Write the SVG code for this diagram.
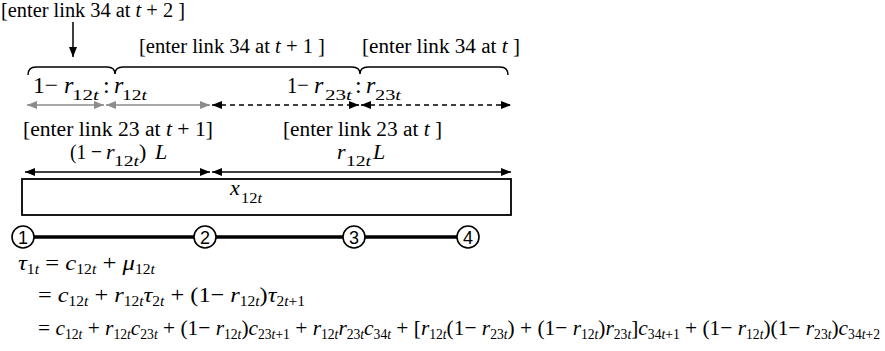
<svg xmlns="http://www.w3.org/2000/svg" width="885" height="351" viewBox="0 0 885 351">
<defs>
<style>
text{font-family:"Liberation Serif","Times New Roman",serif;fill:#000}
.lab{font-size:20px}
.big{font-size:24px}
.mid{font-size:22px}
.eq{font-size:22px}
.i{font-style:italic}
.s{font-size:14px}
.sb{font-size:15px}
.num{font-family:"Liberation Sans",Arial,sans-serif;font-size:18px}
.ln{stroke:#000;stroke-width:1.5;fill:none}
.gr{stroke:#8c8c8c;stroke-width:1.6;fill:none}
.ds{stroke:#000;stroke-width:1.5;fill:none;stroke-dasharray:5 4}
.lk{stroke:#000;stroke-width:3.5}
.nd{fill:#fff;stroke:#000;stroke-width:1.6}
</style>
<marker id="ah" viewBox="0 0 10 8" refX="10" refY="4" markerWidth="10" markerHeight="8" markerUnits="userSpaceOnUse" orient="auto-start-reverse"><path d="M0,0L10,4L0,8z" fill="#000"/></marker>
<marker id="ag" viewBox="0 0 10 8" refX="10" refY="4" markerWidth="10" markerHeight="8" markerUnits="userSpaceOnUse" orient="auto-start-reverse"><path d="M0,0L10,4L0,8z" fill="#8c8c8c"/></marker>
</defs>

<g id="labels">
<text class="lab" x="1" y="17" textLength="184" lengthAdjust="spacingAndGlyphs">[enter link 34 at <tspan class="i">t</tspan> + 2 ]</text>
<text class="lab" x="139" y="53" textLength="186" lengthAdjust="spacingAndGlyphs">[enter link 34 at <tspan class="i">t</tspan> + 1 ]</text>
<text class="lab" x="362" y="53" textLength="158" lengthAdjust="spacingAndGlyphs">[enter link 34 at <tspan class="i">t</tspan> ]</text>

<text class="big" x="33" y="93" textLength="25" lengthAdjust="spacingAndGlyphs">1−</text>
<text class="big i" x="64" y="93">r</text>
<text class="sb" x="72" y="100" textLength="27" lengthAdjust="spacingAndGlyphs">12<tspan class="i">t</tspan></text>
<text class="big" x="103" y="93">:</text>
<text class="big i" x="114" y="93">r</text>
<text class="sb" x="122" y="100" textLength="25" lengthAdjust="spacingAndGlyphs">12<tspan class="i">t</tspan></text>

<text class="big" x="287" y="93" textLength="22" lengthAdjust="spacingAndGlyphs">1−</text>
<text class="big i" x="314" y="93">r</text>
<text class="sb" x="325" y="100" textLength="27" lengthAdjust="spacingAndGlyphs">23<tspan class="i">t</tspan></text>
<text class="big" x="355" y="93">:</text>
<text class="big i" x="366" y="93">r</text>
<text class="sb" x="375" y="100" textLength="26" lengthAdjust="spacingAndGlyphs">23<tspan class="i">t</tspan></text>

<text class="lab" x="23" y="136" textLength="190" lengthAdjust="spacingAndGlyphs">[enter link 23 at <tspan class="i">t</tspan> + 1]</text>
<text class="lab" x="283" y="136" textLength="159" lengthAdjust="spacingAndGlyphs">[enter link 23 at <tspan class="i">t</tspan> ]</text>

<text class="mid" x="70" y="159" textLength="32" lengthAdjust="spacingAndGlyphs">(1 −</text>
<text class="mid i" x="106" y="159">r</text>
<text class="s" x="114" y="166" textLength="25" lengthAdjust="spacingAndGlyphs">12<tspan class="i">t</tspan></text>
<text class="mid" x="139" y="159">)</text>
<text class="mid i" x="155" y="159">L</text>

<text class="mid i" x="337" y="159">r</text>
<text class="s" x="346" y="166" textLength="25" lengthAdjust="spacingAndGlyphs">12<tspan class="i">t</tspan></text>
<text class="mid i" x="373" y="159">L</text>
</g>

<g id="box">
<rect x="22" y="179" width="489" height="36" fill="#fff" stroke="#000" stroke-width="1.8"/>
<text class="mid i" x="230" y="195">x</text>
<text class="s" x="241" y="203" textLength="21" lengthAdjust="spacingAndGlyphs">12<tspan class="i">t</tspan></text>
</g>

<g id="connectors">
<line class="ln" x1="73" y1="22" x2="73" y2="57" marker-end="url(#ah)"/>
<path class="ln" d="M28,75 Q28,67 36,67 L107,67 Q115,67 115,74 Q115,67 123,67 L352,67 Q360,67 360,74 Q360,67 368,67 L500,67 Q508,67 508,75"/>
<line class="gr" x1="27" y1="105" x2="104" y2="105" marker-start="url(#ag)" marker-end="url(#ag)"/>
<line class="gr" x1="106" y1="105" x2="210" y2="105" marker-start="url(#ag)" marker-end="url(#ag)"/>
<line class="ds" x1="212" y1="105" x2="359" y2="105" marker-start="url(#ah)" marker-end="url(#ah)"/>
<line class="ds" x1="361" y1="105" x2="511" y2="105" marker-start="url(#ah)" marker-end="url(#ah)"/>
<line class="ln" x1="25" y1="172" x2="210" y2="172" marker-start="url(#ah)" marker-end="url(#ah)"/>
<line class="ln" x1="212" y1="172" x2="511" y2="172" marker-start="url(#ah)" marker-end="url(#ah)"/>
<line class="lk" x1="23" y1="237" x2="468" y2="237"/>
</g>

<g id="n1"><circle class="nd" cx="23" cy="237" r="11"/><text class="num" x="23" y="243.5" text-anchor="middle">1</text></g>
<g id="n2"><circle class="nd" cx="205" cy="237" r="11"/><text class="num" x="205" y="243.5" text-anchor="middle">2</text></g>
<g id="n3"><circle class="nd" cx="354" cy="237" r="11"/><text class="num" x="354" y="243.5" text-anchor="middle">3</text></g>
<g id="n4"><circle class="nd" cx="468" cy="237" r="11"/><text class="num" x="468" y="243.5" text-anchor="middle">4</text></g>

<g id="equations">
<text class="eq" x="18" y="270" textLength="137" lengthAdjust="spacingAndGlyphs"><tspan class="i">τ</tspan><tspan class="s" dy="4">1<tspan class="i">t</tspan></tspan><tspan dy="-4"> = </tspan><tspan class="i">c</tspan><tspan class="s" dy="4">12<tspan class="i">t</tspan></tspan><tspan dy="-4"> + </tspan><tspan class="i">μ</tspan><tspan class="s" dy="4">12<tspan class="i">t</tspan></tspan></text>
<text class="eq" x="38" y="302" textLength="267" lengthAdjust="spacingAndGlyphs">= <tspan class="i">c</tspan><tspan class="s" dy="4">12<tspan class="i">t</tspan></tspan><tspan dy="-4"> + </tspan><tspan class="i">r</tspan><tspan class="s" dy="4">12<tspan class="i">t</tspan></tspan><tspan class="i" dy="-4">τ</tspan><tspan class="s" dy="4">2<tspan class="i">t</tspan></tspan><tspan dy="-4"> + (1− </tspan><tspan class="i">r</tspan><tspan class="s" dy="4">12<tspan class="i">t</tspan></tspan><tspan dy="-4">)</tspan><tspan class="i">τ</tspan><tspan class="s" dy="4">2<tspan class="i">t</tspan>+1</tspan></text>
<text class="eq" x="38" y="335" textLength="842" lengthAdjust="spacingAndGlyphs">= <tspan class="i">c</tspan><tspan class="s" dy="4">12<tspan class="i">t</tspan></tspan><tspan dy="-4"> + </tspan><tspan class="i">r</tspan><tspan class="s" dy="4">12<tspan class="i">t</tspan></tspan><tspan class="i" dy="-4">c</tspan><tspan class="s" dy="4">23<tspan class="i">t</tspan></tspan><tspan dy="-4"> + (1− </tspan><tspan class="i">r</tspan><tspan class="s" dy="4">12<tspan class="i">t</tspan></tspan><tspan dy="-4">)</tspan><tspan class="i">c</tspan><tspan class="s" dy="4">23<tspan class="i">t</tspan>+1</tspan><tspan dy="-4"> + </tspan><tspan class="i">r</tspan><tspan class="s" dy="4">12<tspan class="i">t</tspan></tspan><tspan class="i" dy="-4">r</tspan><tspan class="s" dy="4">23<tspan class="i">t</tspan></tspan><tspan class="i" dy="-4">c</tspan><tspan class="s" dy="4">34<tspan class="i">t</tspan></tspan><tspan dy="-4"> + [</tspan><tspan class="i">r</tspan><tspan class="s" dy="4">12<tspan class="i">t</tspan></tspan><tspan dy="-4">(1− </tspan><tspan class="i">r</tspan><tspan class="s" dy="4">23<tspan class="i">t</tspan></tspan><tspan dy="-4">) + (1− </tspan><tspan class="i">r</tspan><tspan class="s" dy="4">12<tspan class="i">t</tspan></tspan><tspan dy="-4">)</tspan><tspan class="i">r</tspan><tspan class="s" dy="4">23<tspan class="i">t</tspan></tspan><tspan dy="-4">]</tspan><tspan class="i">c</tspan><tspan class="s" dy="4">34<tspan class="i">t</tspan>+1</tspan><tspan dy="-4"> + (1− </tspan><tspan class="i">r</tspan><tspan class="s" dy="4">12<tspan class="i">t</tspan></tspan><tspan dy="-4">)(1− </tspan><tspan class="i">r</tspan><tspan class="s" dy="4">23<tspan class="i">t</tspan></tspan><tspan dy="-4">)</tspan><tspan class="i">c</tspan><tspan class="s" dy="4">34<tspan class="i">t</tspan>+2</tspan></text>
</g>
</svg>
